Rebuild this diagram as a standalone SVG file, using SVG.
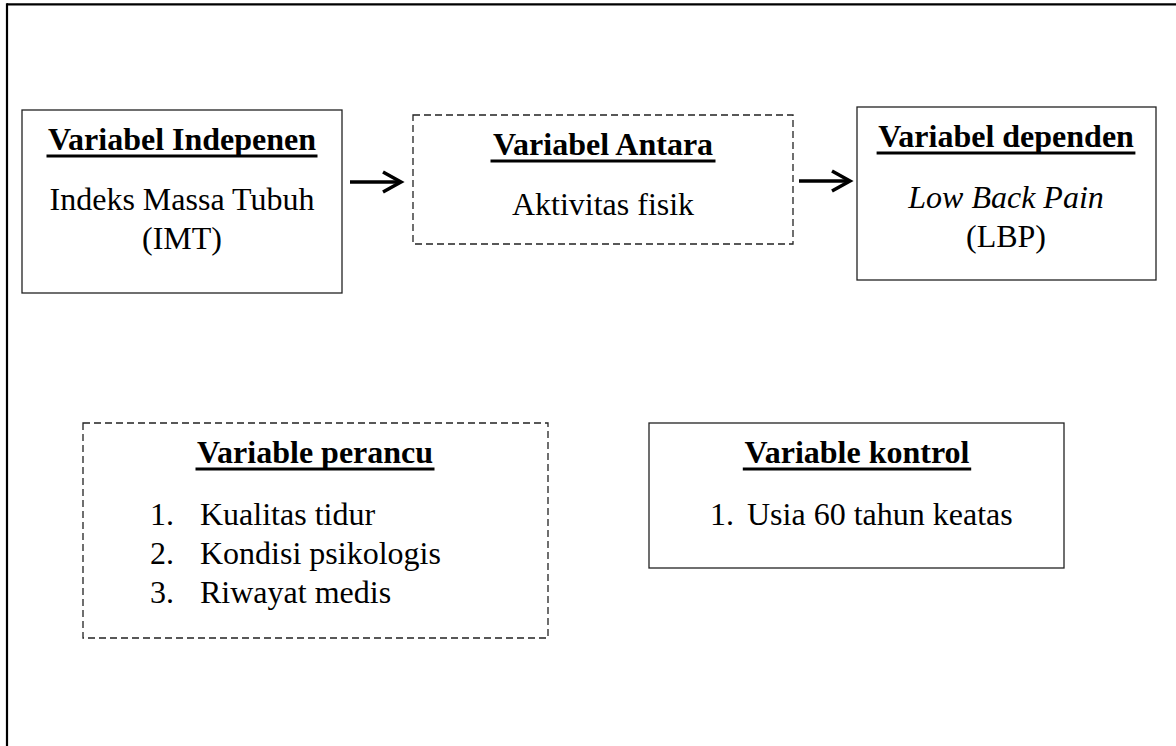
<svg xmlns="http://www.w3.org/2000/svg" width="1176" height="746" viewBox="0 0 1176 746">
<style>
.box{fill:#fff;stroke:#222;stroke-width:1.3}
.dash{fill:#fff;stroke:#222;stroke-width:1.3;stroke-dasharray:7 4}
.t{font-family:"Liberation Serif","Times New Roman",serif;font-size:32px;fill:#000}
.b{font-weight:bold}
.i{font-style:italic}
.ul{stroke:#000;stroke-width:3}
.arr{stroke:#000;stroke-width:3.5;fill:none}
</style>
<rect width="1176" height="746" fill="#fff"/>
<g id="frame">
<line x1="7" y1="4.3" x2="1176" y2="4.3" stroke="#000" stroke-width="2.2"/>
<line x1="7" y1="3.2" x2="7" y2="746" stroke="#000" stroke-width="2.2"/>
</g>
<g id="independen">
<rect class="box" x="22" y="110" width="320" height="183"/>
<text class="t b" x="182" y="150" text-anchor="middle">Variabel Indepenen</text>
<line class="ul" x1="46.5" y1="156" x2="317.5" y2="156"/>
<text class="t" x="182" y="210" text-anchor="middle">Indeks Massa Tubuh</text>
<text class="t" x="182" y="249" text-anchor="middle">(IMT)</text>
</g>
<g id="antara">
<rect class="dash" x="413" y="115" width="380" height="129"/>
<text class="t b" x="603" y="155" text-anchor="middle">Variabel Antara</text>
<line class="ul" x1="490.5" y1="161" x2="715.5" y2="161"/>
<text class="t" x="603" y="215" text-anchor="middle">Aktivitas fisik</text>
</g>
<g id="dependen">
<rect class="box" x="857" y="107" width="299" height="173"/>
<text class="t b" x="1006" y="147" text-anchor="middle">Variabel dependen</text>
<line class="ul" x1="876.6" y1="153" x2="1135.4" y2="153"/>
<text class="t i" x="1006" y="208" text-anchor="middle">Low Back Pain</text>
<text class="t" x="1006" y="247" text-anchor="middle">(LBP)</text>
</g>
<g id="perancu">
<rect class="dash" x="83" y="423" width="465" height="215"/>
<text class="t b" x="315" y="463" text-anchor="middle">Variable perancu</text>
<line class="ul" x1="195.5" y1="469" x2="434.5" y2="469"/>
<text class="t" x="150" y="525">1.</text>
<text class="t" x="200" y="525">Kualitas tidur</text>
<text class="t" x="150" y="564">2.</text>
<text class="t" x="200" y="564">Kondisi psikologis</text>
<text class="t" x="150" y="603">3.</text>
<text class="t" x="200" y="603">Riwayat medis</text>
</g>
<g id="kontrol">
<rect class="box" x="649" y="423" width="415" height="145"/>
<text class="t b" x="857" y="463" text-anchor="middle">Variable kontrol</text>
<line class="ul" x1="742.8" y1="469" x2="971.2" y2="469"/>
<text class="t" x="710" y="525">1.</text>
<text class="t" x="747" y="525">Usia 60 tahun keatas</text>
</g>
<g id="connectors">
<line class="arr" x1="350" y1="182" x2="401" y2="182"/>
<polyline class="arr" points="383,172 401,182 383,192"/>
<line class="arr" x1="799" y1="181" x2="850" y2="181"/>
<polyline class="arr" points="832,171 850,181 832,191"/>
</g>
</svg>
